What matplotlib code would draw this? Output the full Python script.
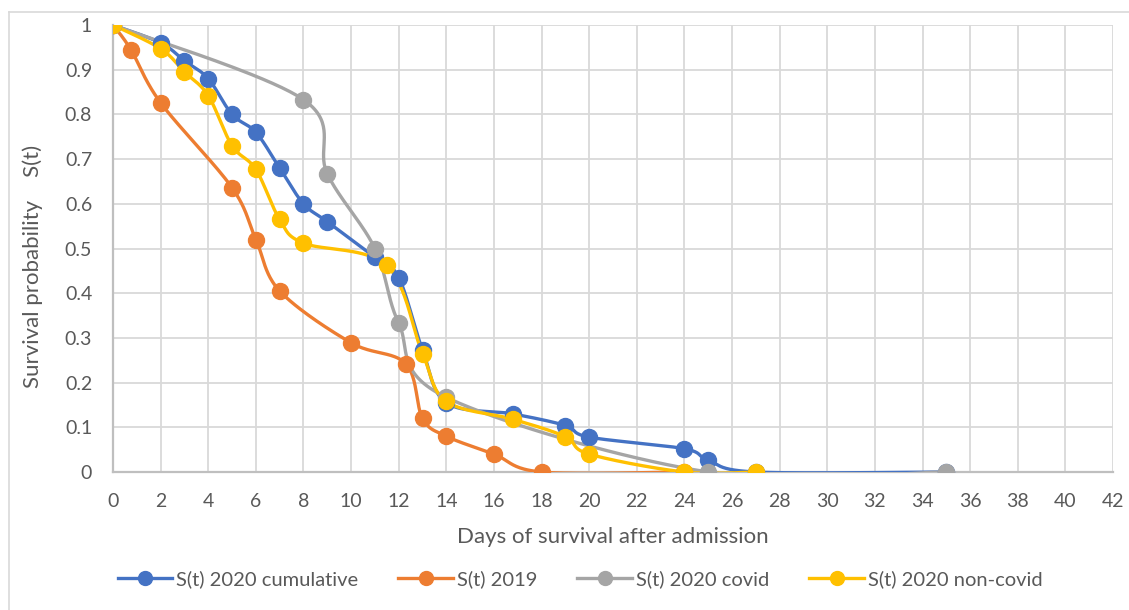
import numpy as np
import matplotlib
matplotlib.use("Agg")
import matplotlib.pyplot as plt
from matplotlib.lines import Line2D

plt.rcParams['font.family'] = ['Lato', 'DejaVu Sans']

# ---- data ----
cum_x = [0, 2, 3, 4, 5, 6, 7, 8, 9, 11, 12, 13, 14, 16.8, 19, 20, 24, 25, 27, 35]
cum_y = [1, 0.96, 0.92, 0.88, 0.80, 0.76, 0.68, 0.60, 0.56, 0.48, 0.435, 0.273, 0.155, 0.13, 0.104, 0.078, 0.052, 0.026, 0, 0]

y19_x = [0, 0.75, 2, 5, 6, 7, 10, 12.3, 13, 14, 16, 18, 24]
y19_y = [1, 0.945, 0.826, 0.636, 0.52, 0.405, 0.289, 0.242, 0.12, 0.08, 0.04, 0, 0]

cov_x = [0, 8, 9, 11, 12, 14, 25, 35]
cov_y = [1, 0.833, 0.667, 0.5, 0.333, 0.167, 0, 0]

non_x = [0, 2, 3, 4, 5, 6, 7, 8, 11.5, 13, 14, 16.8, 19, 20, 24, 27]
non_y = [1, 0.947, 0.895, 0.842, 0.73, 0.677, 0.565, 0.512, 0.462, 0.265, 0.158, 0.118, 0.079, 0.04, 0, 0]

labels = ["S(t) 2020 cumulative", "S(t) 2019", "S(t) 2020 covid", "S(t) 2020 non-covid"]
colors = ["#4472C4", "#ED7D31", "#A5A5A5", "#FFC000"]
xticks = list(range(0, 43, 2))
yticks = [0, 0.1, 0.2, 0.3, 0.4, 0.5, 0.6, 0.7, 0.8, 0.9, 1]
ytick_labels = ["0", "0.1", "0.2", "0.3", "0.4", "0.5", "0.6", "0.7", "0.8", "0.9", "1"]

W, H = 1129, 610


def smooth(xs, ys, n=40):
    P = np.column_stack([xs, ys]).astype(float)
    m = len(P)
    out = [P[0]]
    for i in range(m - 1):
        p0 = P[i - 1] if i > 0 else P[i]
        p1 = P[i]
        p2 = P[i + 1]
        p3 = P[i + 2] if i + 2 < m else P[i + 1]
        c1 = p1 + (p2 - p0) / 6.0
        c2 = p2 - (p3 - p1) / 6.0
        t = np.linspace(0, 1, n)[1:, None]
        seg = ((1 - t) ** 3) * p1 + 3 * ((1 - t) ** 2) * t * c1 + 3 * (1 - t) * t ** 2 * c2 + t ** 3 * p2
        out.extend(seg)
    out = np.array(out)
    return out[:, 0], out[:, 1]


fig = plt.figure(figsize=(W / 100, H / 100), dpi=100)
ax = fig.add_axes([113 / W, 1 - 472 / H, (1113 - 113) / W, (472 - 25) / H])

series = [(cum_x, cum_y), (y19_x, y19_y), (cov_x, cov_y), (non_x, non_y)]
handles = []
for (xs, ys), c, lab in zip(series, colors, labels):
    sx, sy = smooth(xs, ys)
    ax.plot(sx, sy, color=c, lw=2.4, solid_capstyle='round', zorder=3)
    ax.plot(xs, ys, ls='none', marker='o', ms=11.5, color=c, mec=c, zorder=4)
    handles.append(Line2D([], [], color=c, lw=2.4, marker='o', ms=10, label=lab))

ax.set_xlim(0, 42)
ax.set_ylim(0, 1)
ax.set_xticks(xticks)
ax.set_yticks(yticks)
ax.set_yticklabels(ytick_labels)
ax.grid(True, color='#D9D9D9', lw=1.3, zorder=0)
ax.set_axisbelow(True)
for s in ['top', 'right']:
    ax.spines[s].set_visible(False)
for s in ['left', 'bottom']:
    ax.spines[s].set_color('#BFBFBF')
    ax.spines[s].set_linewidth(1.6)
ax.tick_params(axis='both', length=0, labelsize=14, colors='#595959')
ax.tick_params(axis='x', pad=15)
ax.tick_params(axis='y', pad=15)

fig.text(613 / W, 1 - 537 / H, "Days of survival after admission", fontsize=16,
         color='#595959', ha='center', va='center')
fig.text(33 / W, 1 - 266 / H, "Survival probability    S(t)", fontsize=16,
         color='#595959', ha='center', va='center', rotation=90)

leg = fig.legend(handles=handles, loc='center', bbox_to_anchor=(580 / W, 1 - 579 / H), ncol=4,
                 frameon=False, fontsize=14.5, handlelength=2.7, columnspacing=2.0,
                 handletextpad=0.2)
for t in leg.get_texts():
    t.set_color('#595959')

# chart-area border (left and top edges visible)
fig.add_artist(Line2D([9 / W, 9 / W], [0, 1 - 12 / H], transform=fig.transFigure,
                      color='#D9D9D9', lw=1.2))
fig.add_artist(Line2D([9 / W, 1], [1 - 12 / H, 1 - 12 / H], transform=fig.transFigure,
                      color='#D9D9D9', lw=1.2))

fig.savefig("out.png", dpi=100)
